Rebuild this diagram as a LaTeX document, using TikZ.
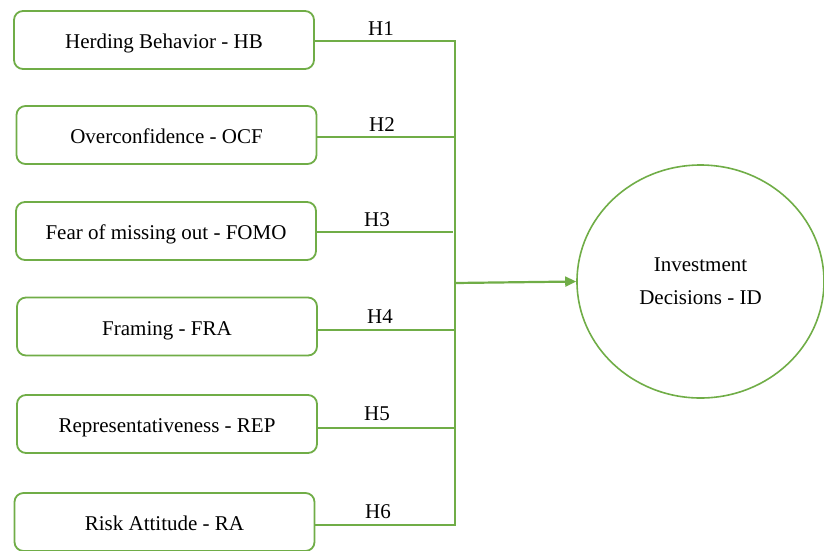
\documentclass[tikz,border=0pt]{standalone}
\usepackage{fontspec}
\setmainfont{Liberation Serif}
\usetikzlibrary{arrows.meta,shapes.geometric}
\definecolor{grn}{RGB}{112,173,71}
\tikzset{
  var/.style={draw=grn, line width=1.8pt, rounded corners=9pt, minimum width=300pt, minimum height=58pt, inner sep=0pt, text height=17pt, text depth=0pt, font=\fontsize{21}{24}\selectfont, fill=white},
  conn/.style={draw=grn, line width=1.3pt},
  hlab/.style={font=\fontsize{21}{24}\selectfont, inner sep=0pt},
  mainarrow/.style={draw=grn, line width=2.2pt, -{Triangle[length=11pt,width=10pt]}},
  dv/.style={draw=grn, line width=1.6pt, ellipse, minimum width=247pt, minimum height=233pt, align=center, font=\fontsize{21}{33}\selectfont, inner sep=0pt}
}
\begin{document}
\begin{tikzpicture}[x=1pt,y=-1pt]
\useasboundingbox (0,0) rectangle (824,550);
\clip (0,0) rectangle (824,550);
\node[var] (hb)  at (164,40)  {Herding Behavior - HB};
\node[var] (ocf) at (166.5,135) {Overconfidence - OCF};
\node[var] (fomo) at (166,231) {Fear of missing out - FOMO};
\node[var] (fra) at (167,326.5) {Framing - FRA};
\node[var] (rep) at (167,424) {Representativeness - REP};
\node[var] (ra)  at (164.5,522) {Risk Attitude - RA};
\coordinate (t1) at (455,41);
\coordinate (t2) at (455,137);
\coordinate (t3) at (453,232);
\coordinate (t4) at (455,330);
\coordinate (t5) at (455,428);
\coordinate (t6) at (455,525);
\coordinate (mid) at (455,283);
\node[dv] (id) at (700.5,281.5) {Investment\\Decisions - ID};
\draw[conn] (hb.east |- t1) -- (t1) -- (t6) -- (ra.east |- t6);
\draw[conn] (ocf.east |- t2) -- (t2);
\draw[conn] (fomo.east |- t3) -- (t3);
\draw[conn] (fra.east |- t4) -- (t4);
\draw[conn] (rep.east |- t5) -- (t5);
\draw[mainarrow] (mid) -- (id.west);
\node[hlab] (h1) at (381,29) {H1};
\node[hlab] (h2) at (382,125) {H2};
\node[hlab] (h3) at (377,220) {H3};
\node[hlab] (h4) at (380,317) {H4};
\node[hlab] (h5) at (377,414) {H5};
\node[hlab] (h6) at (378,512) {H6};
\end{tikzpicture}
\end{document}
